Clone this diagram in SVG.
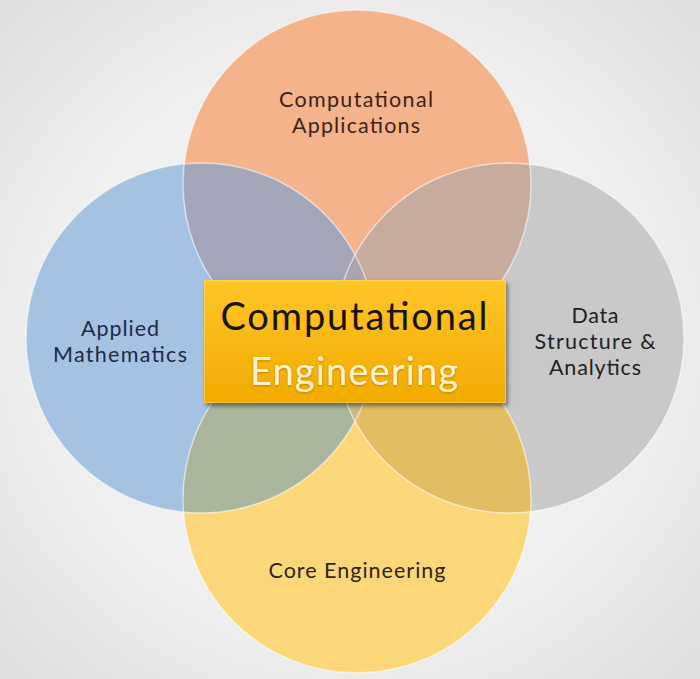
<svg xmlns="http://www.w3.org/2000/svg" width="700" height="679" viewBox="0 0 700 679">
  <defs>
    <radialGradient id="bg" cx="50%" cy="50%" r="72%">
      <stop offset="0" stop-color="#FAFAFA"/>
      <stop offset="0.6" stop-color="#EFEFEF"/>
      <stop offset="1" stop-color="#DEDEDE"/>
    </radialGradient>
    <linearGradient id="gold" x1="0" y1="0" x2="0" y2="1">
      <stop offset="0" stop-color="#FFC62A"/>
      <stop offset="1" stop-color="#F2AA00"/>
    </linearGradient>
    <filter id="shadow" x="-10%" y="-10%" width="125%" height="130%">
      <feDropShadow dx="2" dy="3" stdDeviation="2" flood-color="#000" flood-opacity="0.45"/>
    </filter>
    <filter id="glow" x="-5%" y="-20%" width="110%" height="140%">
      <feDropShadow dx="0" dy="1" stdDeviation="1" flood-color="#A06400" flood-opacity="0.6"/>
    </filter>
    <clipPath id="clipT"><circle cx="357" cy="184" r="174"/></clipPath>
    <clipPath id="clipL"><circle cx="201" cy="338" r="175"/></clipPath>
    <clipPath id="clipR"><circle cx="509" cy="338" r="175"/></clipPath>
    <clipPath id="clipB"><circle cx="357" cy="499" r="174"/></clipPath>
  </defs>
  <style>
    .lbl { font-family: Lato, "Open Sans", "Liberation Sans", sans-serif; font-size: 21.5px; text-anchor: middle; }
    .edge { fill: none; stroke: #FFFFFF; stroke-opacity: 0.55; stroke-width: 1.5; }
    .big { font-family: Lato, "Open Sans", "Liberation Sans", sans-serif; font-size: 38px; text-anchor: middle; }
  </style>

  <rect x="0" y="0" width="700" height="679" fill="url(#bg)"/>

  <g id="node-top">
    <circle cx="357" cy="184" r="174" fill="#F4B38B"/>
  </g>
  <g id="node-left">
    <circle cx="201" cy="338" r="175" fill="#A4C3E3"/>
  </g>
  <g id="node-right">
    <circle cx="509" cy="338" r="175" fill="#C9C9C9"/>
  </g>
  <g id="node-bottom">
    <circle cx="357" cy="499" r="174" fill="#FCD77A"/>
  </g>

  <g id="overlaps">
    <circle cx="201" cy="338" r="175" fill="#A3A6B9" clip-path="url(#clipT)"/>
    <circle cx="509" cy="338" r="175" fill="#C7AB9C" clip-path="url(#clipT)"/>
    <circle cx="201" cy="338" r="175" fill="#A9B59D" clip-path="url(#clipB)"/>
    <circle cx="509" cy="338" r="175" fill="#E2BE62" clip-path="url(#clipB)"/>
    <g clip-path="url(#clipT)"><circle cx="509" cy="338" r="175" fill="#ABA3AF" clip-path="url(#clipL)"/></g>
    <g clip-path="url(#clipB)"><circle cx="509" cy="338" r="175" fill="#C8B98A" clip-path="url(#clipL)"/></g>
  </g>

  <g id="edges">
    <circle class="edge" cx="357" cy="184" r="174"/>
    <circle class="edge" cx="201" cy="338" r="175"/>
    <circle class="edge" cx="509" cy="338" r="175"/>
    <circle class="edge" cx="357" cy="499" r="174"/>
  </g>

  <g id="labels">
    <text class="lbl" x="356" y="107" fill="#3E2219" textLength="154">Computational</text>
    <text class="lbl" x="356" y="133" fill="#3E2219" textLength="128">Applications</text>
    <text class="lbl" x="120" y="336" fill="#1E2B44" textLength="78">Applied</text>
    <text class="lbl" x="120" y="362" fill="#1E2B44" textLength="134">Mathematics</text>
    <text class="lbl" x="595" y="323" fill="#222222" textLength="47">Data</text>
    <text class="lbl" x="595" y="349" fill="#222222" textLength="121">Structure &amp;</text>
    <text class="lbl" x="595" y="375" fill="#222222" textLength="92">Analytics</text>
    <text class="lbl" x="357" y="578" fill="#2E2412" textLength="177">Core Engineering</text>
  </g>

  <g id="connectors"/>

  <g id="node-center">
    <rect x="204" y="280" width="302" height="123" fill="url(#gold)" filter="url(#shadow)"/>
    <rect x="204.5" y="280.5" width="301" height="122" fill="none" stroke="#FFD866" stroke-opacity="0.6" stroke-width="1"/>
    <text class="big" x="354" y="330" fill="#1A1200" textLength="267">Computational</text>
    <text class="big" x="354" y="385" fill="#FFF4CC" filter="url(#glow)" textLength="208">Engineering</text>
  </g>
</svg>
